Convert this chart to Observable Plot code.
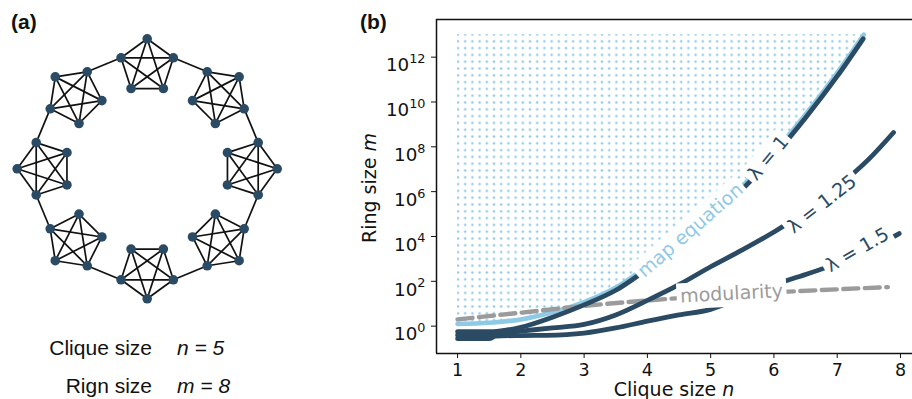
<!DOCTYPE html>
<html><head><meta charset="utf-8">
<script src="https://cdn.jsdelivr.net/npm/d3@7"></script>
<script src="https://cdn.jsdelivr.net/npm/@observablehq/plot@0.6"></script>
<style>
html,body{margin:0;padding:0;background:#fff;}
#wrap{position:relative;width:912px;height:399px;overflow:hidden;background:#fff;}
#b{position:absolute;left:0;top:0;width:912px;height:399px;}
#a{position:absolute;left:0;top:0;width:300px;height:399px;}
</style></head><body>
<div id="wrap"><div id="b"></div><div id="a"></div></div>
<script>
// ---------- colours ----------
const navy = "#2a4b63", sky = "#8ecae6", gray = "#9b9b9b";

// ---------- panel (a): ring of cliques ----------
const cliqueSize = 5;   // n
const ringSize = 8;     // m
const ringCenter = [146.7, 168.3], ringRadius = 102.5, cliqueRadius = 27.5;

// ---------- panel (b) data ----------
const xTicks = [1, 2, 3, 4, 5, 6, 7, 8];
const yTickExps = [0, 2, 4, 6, 8, 10, 12];
const hatchTop = 1e13;

const mapEqN   = [1, 1.5, 2, 2.5, 3, 3.5, 4, 4.5, 5, 5.5, 6, 6.5, 7, 7.42];
const mapEqExp = [0.1, 0.15, 0.3, 0.62, 1.07, 1.72, 2.68, 3.7, 4.9, 6.25, 7.75, 9.45, 11.3, 13.0];

const lam1N    = [1, 1.5, 2, 2.5, 3, 3.5, 4, 4.5, 5, 5.5, 6, 6.5, 7, 7.41];
const lam1Exp  = [-0.25, -0.25, -0.05, 0.4, 0.95, 1.6, 2.55, 3.55, 4.75, 6.1, 7.6, 9.3, 11.15, 12.82];

const lam125N   = [1, 1.5, 2, 2.5, 3, 3.5, 4, 4.5, 5, 5.5, 6, 6.5, 7, 7.5, 7.89];
const lam125Exp = [-0.4, -0.38, -0.22, -0.08, 0.08, 0.5, 1.15, 1.85, 2.65, 3.4, 4.2, 5.1, 6.2, 7.45, 8.64];

const lam15N   = [1, 1.5, 1.6, 2, 2.4, 3, 3.5, 4, 4.5, 5, 5.5, 6, 6.5, 7, 7.5, 7.98];
const lam15Exp = [-0.56, -0.56, -0.44, -0.42, -0.41, -0.31, -0.08, 0.22, 0.5, 0.75, 1.3, 1.85, 2.3, 2.8, 3.4, 4.13];

const modN = [1, 2, 3, 4, 5, 6, 7, 7.8];
const modM = [2, 4, 8, 14, 22, 32, 44, 55];

const labelText  = ["map equation", "λ = 1", "λ = 1.25", "λ = 1.5", "modularity"];
const labelN     = [4.68, 5.91, 6.76, 7.32, 5.33];
const labelExp   = [4.27, 7.5, 5.45, 3.4, 1.45];
const labelAngle = [-41, -50, -38, -30, -3];
const labelColor = [sky, navy, navy, navy, gray];

// ---------- build rows ----------
const rows = (ns, es) => ns.map((n, i) => ({n, m: Math.pow(10, es[i])}));
const mapEq = rows(mapEqN, mapEqExp);
const lam1 = rows(lam1N, lam1Exp);
const lam125 = rows(lam125N, lam125Exp);
const lam15 = rows(lam15N, lam15Exp);
const modul = modN.map((n, i) => ({n, m: modM[i]}));
const labels = labelText.map((t, i) => ({t, n: labelN[i], m: Math.pow(10, labelExp[i]), a: labelAngle[i], c: labelColor[i]}));

const xDomain = [0.667, 8.19];
const yDomain = [Math.pow(10, -1.22), Math.pow(10, 13.68)];

const lineOpts = (color, w) => ({x: "n", y: "m", stroke: color, strokeWidth: w, curve: "monotone-x"});

const svgB = Plot.plot({
  width: 912, height: 399,
  marginLeft: 436, marginRight: 0, marginTop: 19, marginBottom: 46,
  style: {fontFamily: "DejaVu Sans, sans-serif", fontSize: "17.5px", color: "#111", background: "transparent"},
  x: {domain: xDomain, ticks: xTicks, tickSize: 5, tickPadding: 5, tickFormat: d => String(d), label: null},
  y: {type: "log", domain: yDomain, ticks: yTickExps.map(e => Math.pow(10, e)), tickSize: 5, tickPadding: 6,
      tickFormat: d => String(Math.round(Math.log10(d))), label: null},
  marks: [
    Plot.areaY(mapEq, {x: "n", y1: "m", y2: () => hatchTop, fill: "url(#dots)", curve: "monotone-x"}),
    Plot.line(mapEq, lineOpts(sky, 4.6)),
    Plot.line(modul, {...lineOpts(gray, 4.4), strokeDasharray: "15,6.5"}),
    Plot.line(lam15, lineOpts(navy, 4.8)),
    Plot.line(lam125, lineOpts(navy, 4.8)),
    Plot.line(lam1, lineOpts(navy, 4.8)),
    Plot.ruleX([xDomain[0]], {stroke: "#111", strokeWidth: 1.5}),
    Plot.ruleY([yDomain[0]], {stroke: "#111", strokeWidth: 1.5}),
    Plot.ruleY([yDomain[1]], {stroke: "#111", strokeWidth: 1.5}),
    Plot.text(labels, {x: "n", y: "m", text: "t", rotate: "a", fill: "c", fontSize: 19,
      textAnchor: "middle", lineAnchor: "middle"})
  ]
});
document.getElementById("b").appendChild(svgB);
const sb = d3.select(svgB);
sb.insert("defs", ":first-child").html(
  '<pattern id="dots" patternUnits="userSpaceOnUse" width="7.2" height="6.8" x="454.4" y="31.1">' +
  '<circle cx="3.6" cy="3.4" r="1.25" fill="' + sky + '"/></pattern>');
// white label boxes behind the curve labels
sb.selectAll('g[aria-label="text"]').raise().selectAll("text").each(function () {
  const bb = this.getBBox(), padX = 3.5, padY = 2;
  const r = document.createElementNS("http://www.w3.org/2000/svg", "rect");
  r.setAttribute("x", bb.x - padX); r.setAttribute("y", bb.y - padY + 1);
  r.setAttribute("width", bb.width + 2 * padX); r.setAttribute("height", bb.height + 2 * padY);
  const tf = this.getAttribute("transform"); if (tf) r.setAttribute("transform", tf);
  r.setAttribute("fill", "white"); r.setAttribute("stroke", "none");
  this.parentNode.insertBefore(r, this);
});
sb.selectAll('g[aria-label="y-axis tick label"] text').each(function () {
  const t = d3.select(this); const e = t.text();
  t.text(null).attr("dy", "0.46em").attr("font-size", 18.3);
  t.append("tspan").text("10");
  t.append("tspan").attr("dy", "-0.65em").attr("font-size", "0.7em").text(e);
});
const yl = sb.append("text").attr("transform", "translate(376,188) rotate(-90)")
  .attr("text-anchor", "middle").attr("font-size", 19).attr("fill", "#111");
yl.append("tspan").text("Ring size ");
yl.append("tspan").attr("font-style", "italic").text("m");
const xl = sb.append("text").attr("x", 674).attr("y", 396)
  .attr("text-anchor", "middle").attr("font-size", 19).attr("fill", "#111");
xl.append("tspan").text("Clique size ");
xl.append("tspan").attr("font-style", "italic").text("n");
sb.append("text").attr("x", 360).attr("y", 29).attr("text-anchor", "start")
  .attr("font-family", "Liberation Sans, Arial, sans-serif")
  .attr("font-weight", "bold").attr("font-size", 21).attr("fill", "#111").text("(b)");

// ---------- panel (a) layout ----------
const nodes = [], edges = [];
for (let c = 0; c < ringSize; c++) {
  const th = -Math.PI / 2 + c * 2 * Math.PI / ringSize;
  const cx = ringCenter[0] + ringRadius * Math.cos(th), cy = ringCenter[1] + ringRadius * Math.sin(th);
  for (let k = 0; k < cliqueSize; k++) {
    const a = th + k * 2 * Math.PI / cliqueSize;
    nodes.push({c, k, x: cx + cliqueRadius * Math.cos(a), y: cy + cliqueRadius * Math.sin(a)});
  }
}
const node = (c, k) => nodes[c * cliqueSize + k];
for (let c = 0; c < ringSize; c++) {
  for (let i = 0; i < cliqueSize; i++) for (let j = i + 1; j < cliqueSize; j++) edges.push([node(c, i), node(c, j)]);
  edges.push([node(c, 1), node((c + 1) % ringSize, cliqueSize - 1)]);
}
const svgA = Plot.plot({
  width: 300, height: 399, margin: 0,
  style: {background: "transparent"},
  x: {domain: [0, 300], axis: null},
  y: {domain: [0, 399], axis: null, reverse: true},
  marks: [
    Plot.link(edges, {x1: d => d[0].x, y1: d => d[0].y, x2: d => d[1].x, y2: d => d[1].y, stroke: "#111", strokeWidth: 1.7}),
    Plot.dot(nodes, {x: "x", y: "y", r: 4.8, fill: navy, stroke: "none"})
  ]
});
document.getElementById("a").appendChild(svgA);
const sa = d3.select(svgA);
const fA = "Liberation Sans, Arial, sans-serif";
sa.append("text").attr("x", 11).attr("y", 29).attr("text-anchor", "start").attr("font-family", fA)
  .attr("font-weight", "bold").attr("font-size", 21).attr("fill", "#111").text("(a)");
const addRow = (y, name, sym, val) => {
  sa.append("text").attr("x", 152).attr("y", y).attr("text-anchor", "end").attr("font-family", fA)
    .attr("font-size", 21).attr("fill", "#111").text(name);
  sa.append("text").attr("x", 177).attr("y", y).attr("text-anchor", "start").attr("font-family", fA)
    .attr("font-style", "italic").attr("font-size", 21).attr("fill", "#111").text(sym + " = " + val);
};
addRow(354.5, "Clique size", "n", cliqueSize);
addRow(392.5, "Rign size", "m", ringSize);
</script>
</body></html>
